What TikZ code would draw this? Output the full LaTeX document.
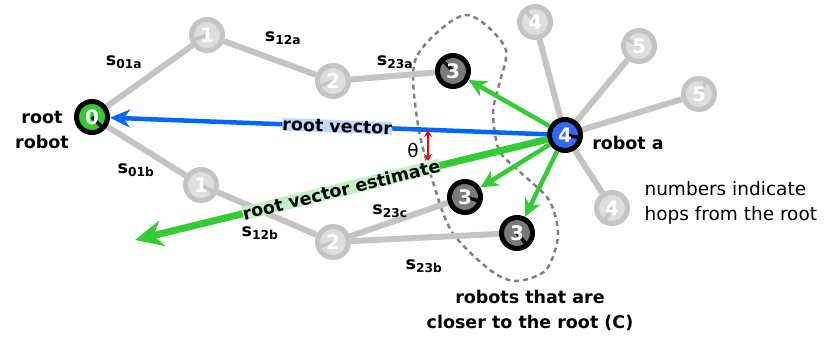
\documentclass[tikz,border=0pt]{standalone}
\usepackage{fontspec}
\setmainfont{DejaVu Sans}
\usetikzlibrary{arrows.meta,backgrounds}
\definecolor{linkgray}{HTML}{C4C4C4}
\definecolor{botlight}{HTML}{DEDEDE}
\definecolor{botdark}{HTML}{7A7A7A}
\definecolor{botgreen}{HTML}{33CC33}
\definecolor{botblue}{HTML}{3366FF}
\definecolor{vecblue}{HTML}{0066FF}

\begin{document}
\begin{tikzpicture}[x=1pt, y=-1pt,
	bot/.style={circle, minimum size=31pt, inner sep=0pt, line width=5pt, text=white,
		font=\fontsize{20}{20}\selectfont\bfseries},
	ghost/.style={bot, fill=botlight, draw=linkgray},
	near/.style={bot, fill=botdark, draw=black},
	hd/.style 2 args={path picture={\draw[line width=3.5pt, #2]
		(path picture bounding box.center) -- ++(#1:25pt);}},
	link/.style={draw=linkgray, line width=6pt},
	txt/.style={text=black, font=\fontsize{18.5}{25}\selectfont},
	btxt/.style={text=black, font=\fontsize{17.5}{25}\selectfont\bfseries},
	slab/.style={btxt, inner sep=0pt}]
	\useasboundingbox (0,0) rectangle (825,341);
	% robots
	\node[near, fill=botgreen, hd={-45}{black}] (r0) at (92,117) {0};
	\node[ghost, hd={200}{linkgray}] (r1a) at (207,35) {1};
	\node[ghost, hd={200}{linkgray}] (r2a) at (333,81) {2};
	\node[near, hd={135}{black}] (r3a) at (453,71) {3};
	\node[ghost, hd={-30}{linkgray}] (r1b) at (201,185) {1};
	\node[ghost, hd={200}{linkgray}] (r2b) at (333,242) {2};
	\node[near, hd={-15}{black}] (r3c) at (465,197) {3};
	\node[near, hd={-50}{black}] (r3b) at (517,233) {3};
	\node[near, fill=botblue, hd={-10}{black}] (ra) at (565,135) {4};
	\node[ghost, hd={130}{linkgray}] (r4t) at (535,22) {4};
	\node[ghost, hd={150}{linkgray}] (r5t) at (639,46) {5};
	\node[ghost, hd={60}{linkgray}] (r5r) at (699,94) {5};
	\node[ghost, hd={240}{linkgray}] (r4b) at (612,208) {4};
	\begin{scope}[on background layer]
		\draw[gray, line width=2.5pt, dash pattern=on 5pt off 4pt] plot[smooth cycle] coordinates
			{(465,15) (416,58) (418,125) (433,182) (452,232) (490,270) (516,281) (546,270)
			 (558,235) (549,200) (520,172) (499,150) (493,112) (499,85) (505,47)};
		\draw[link] (r0) -- (r1a) -- (r2a) -- (r3a);
		\draw[link] (r0) -- (r1b) -- (r2b) -- (r3c);
		\draw[link] (r2b) -- (r3b);
		\foreach \n in {r4t, r5t, r5r, r4b} \draw[link] (ra) -- (\n);
	\end{scope}
	% vectors
	\coordinate (estend) at (135,240);
	\draw[vecblue, line width=4.5pt, -{Stealth[length=20pt, width=18pt]}] (ra) --
		node[pos=0.48, sloped, btxt, fill=vecblue!25, inner sep=0pt] (rvlab) {root vector} (r0);
	\draw[botgreen, line width=7pt, -{Stealth[length=28pt, width=26pt]}] (ra) --
		node[pos=0.5, sloped, btxt, fill=botgreen!30, inner sep=0pt] (estlab) {root vector estimate} (estend);
	\foreach \n in {r3a, r3c, r3b}
		\draw[botgreen, line width=4.5pt, -{Stealth[length=18pt, width=17pt]}] (ra) -- (\n);
	\coordinate (thtop) at (428,130);
	\coordinate (thbot) at (428,161);
	\draw[red, line width=2pt, {Stealth[length=7pt, width=8pt]}-{Stealth[length=7pt, width=8pt]}] (thtop) -- (thbot);
	\node[txt] (thlab) at (413,150) {θ};
	% labels
	\node[btxt, align=center] (rootlab) at (42,130) {root\\robot};
	\node[btxt] (alab) at (628,143) {robot a};
	\node[txt, align=left, anchor=west] (hoplab) at (641,203) {numbers indicate\\hops from the root};
	\node[btxt, align=center] (closelab) at (530,310) {robots that are\\closer to the root (C)};
	\node[slab] (s01a) at (124,62) {s\textsubscript{01a}};
	\node[slab] (s12a) at (283,38) {s\textsubscript{12a}};
	\node[slab] (s23a) at (395,62) {s\textsubscript{23a}};
	\node[slab] (s01b) at (136,170) {s\textsubscript{01b}};
	\node[slab] (s12b) at (260,233) {s\textsubscript{12b}};
	\node[slab] (s23c) at (390,211) {s\textsubscript{23c}};
	\node[slab] (s23b) at (424,266) {s\textsubscript{23b}};
\end{tikzpicture}
\end{document}
